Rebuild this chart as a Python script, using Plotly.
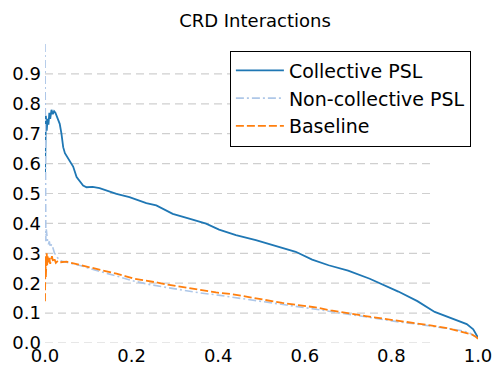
import plotly.graph_objects as go

title_text = "CRD Interactions"
series_names = ["Collective PSL", "Non-collective PSL", "Baseline"]

collective_recall = [0, 0.0005, 0.002, 0.004, 0.006, 0.008, 0.010, 0.012, 0.015, 0.018, 0.021, 0.024,
                     0.027, 0.030, 0.034, 0.038, 0.042, 0.046, 0.050, 0.057, 0.065, 0.073, 0.080, 0.088,
                     0.096, 0.110, 0.126, 0.145, 0.165, 0.195, 0.215, 0.234, 0.257, 0.272, 0.295, 0.333,
                     0.372, 0.402, 0.441, 0.487, 0.540, 0.579, 0.617, 0.655, 0.700, 0.750, 0.816, 0.860,
                     0.900, 0.930, 0.960, 0.974, 0.989, 0.995, 1.0]
collective_precision = [0.55, 0.72, 0.76, 0.71, 0.75, 0.73, 0.77, 0.75, 0.78, 0.765, 0.775, 0.77,
                        0.76, 0.75, 0.733, 0.70, 0.655, 0.635, 0.625, 0.61, 0.59, 0.555, 0.54, 0.527,
                        0.521, 0.522, 0.518, 0.509, 0.499, 0.488, 0.478, 0.468, 0.46, 0.449, 0.432, 0.416,
                        0.399, 0.379, 0.361, 0.344, 0.322, 0.305, 0.279, 0.26, 0.242, 0.215, 0.172, 0.14,
                        0.104, 0.088, 0.072, 0.063, 0.046, 0.033, 0.018]

noncoll_recall = [0, 0.0003, 0.001, 0.002, 0.003, 0.004, 0.006, 0.008, 0.010, 0.012, 0.015, 0.017,
                  0.019, 0.022, 0.025, 0.027, 0.030, 0.034, 0.040, 0.05, 0.06, 0.075, 0.09, 0.105,
                  0.126, 0.15, 0.175, 0.203, 0.24, 0.28, 0.32, 0.356, 0.40, 0.44, 0.467, 0.51, 0.55,
                  0.59, 0.625, 0.67, 0.72, 0.778, 0.82, 0.86, 0.90, 0.93, 0.96, 0.98, 0.995, 1.0]
noncoll_precision = [1.0, 0.5, 0.40, 0.34, 0.38, 0.36, 0.34, 0.33, 0.34, 0.32, 0.33, 0.325,
                     0.311, 0.30, 0.295, 0.288, 0.283, 0.277, 0.273, 0.27, 0.267, 0.262, 0.256, 0.248,
                     0.24, 0.23, 0.22, 0.208, 0.196, 0.186, 0.176, 0.168, 0.16, 0.152, 0.146, 0.138, 0.130,
                     0.122, 0.113, 0.103, 0.092, 0.077, 0.07, 0.063, 0.055, 0.049, 0.042, 0.034, 0.022, 0.016]

baseline_recall = [0, 0.0003, 0.001, 0.002, 0.003, 0.004, 0.005, 0.006, 0.008, 0.010, 0.012, 0.014,
                   0.016, 0.019, 0.022, 0.025, 0.03, 0.035, 0.04, 0.05, 0.06, 0.075, 0.088, 0.105,
                   0.126, 0.145, 0.165, 0.185, 0.203, 0.222, 0.241, 0.26, 0.28, 0.30, 0.318, 0.356,
                   0.395, 0.433, 0.471, 0.51, 0.548, 0.585, 0.625, 0.66, 0.701, 0.74, 0.778, 0.815,
                   0.854, 0.89, 0.931, 0.969, 0.985, 0.996, 1.0]
baseline_precision = [0.14, 0.24, 0.29, 0.22, 0.28, 0.30, 0.26, 0.29, 0.27, 0.285, 0.265, 0.28,
                      0.29, 0.27, 0.28, 0.268, 0.275, 0.27, 0.27, 0.272, 0.268, 0.263, 0.26, 0.253,
                      0.246, 0.239, 0.232, 0.224, 0.216, 0.211, 0.207, 0.202, 0.196, 0.191, 0.186, 0.177,
                      0.169, 0.163, 0.153, 0.143, 0.134, 0.127, 0.119, 0.109, 0.098, 0.09, 0.082, 0.075,
                      0.068, 0.059, 0.049, 0.036, 0.029, 0.02, 0.014]

x_ticks = [0.0, 0.2, 0.4, 0.6, 0.8, 1.0]
y_ticks = [0.0, 0.1, 0.2, 0.3, 0.4, 0.5, 0.6, 0.7, 0.8, 0.9]
grid_end = 0.9

FONT = "DejaVu Sans"

fig = go.Figure()
fig.add_trace(go.Scatter(x=collective_recall, y=collective_precision, mode="lines",
                         name=series_names[0], line=dict(color="#1f77b4", width=1.8)))
fig.add_trace(go.Scatter(x=noncoll_recall, y=noncoll_precision, mode="lines",
                         name=series_names[1],
                         line=dict(color="#aec7e8", width=1.6, dash="8px,3px,2px,3px")))
fig.add_trace(go.Scatter(x=baseline_recall, y=baseline_precision, mode="lines",
                         name=series_names[2],
                         line=dict(color="#ff7f0e", width=1.8, dash="8px,3px")))

for v in y_ticks:
    fig.add_shape(type="line", xref="x", yref="y", x0=0, x1=grid_end, y0=v, y1=v,
                  line=dict(color="#cfcfcf", width=1.2, dash="8px,5px"), layer="below")

fig.update_layout(
    width=495, height=367,
    margin=dict(l=45, r=17, t=44, b=24),
    paper_bgcolor="white", plot_bgcolor="white",
    font=dict(family=FONT, size=18, color="black"),
    title=dict(text=title_text, x=0.485, xref="paper", xanchor="center",
               y=1 - 21 / 367, yanchor="middle", font=dict(family=FONT, size=18, color="black")),
    showlegend=True,
    legend=dict(x=0.427, y=0.978, xanchor="left", yanchor="top",
                bgcolor="white", bordercolor="black", borderwidth=1,
                font=dict(family=FONT, size=19, color="black"),
                itemwidth=48, tracegroupgap=0),
    xaxis=dict(range=[0, 1], tickvals=x_ticks, ticktext=[f"{v:.1f}" for v in x_ticks],
               showgrid=False, zeroline=False, showline=False, ticks="", automargin=False,
               tickfont=dict(family=FONT, size=18, color="black")),
    yaxis=dict(range=[0, 1], tickvals=y_ticks, ticktext=[f"{v:.1f}" for v in y_ticks],
               showgrid=False, zeroline=False, showline=False, ticks="", automargin=False,
               ticklabelstandoff=3,
               tickfont=dict(family=FONT, size=18, color="black")),
)

fig.write_html("out.html")
